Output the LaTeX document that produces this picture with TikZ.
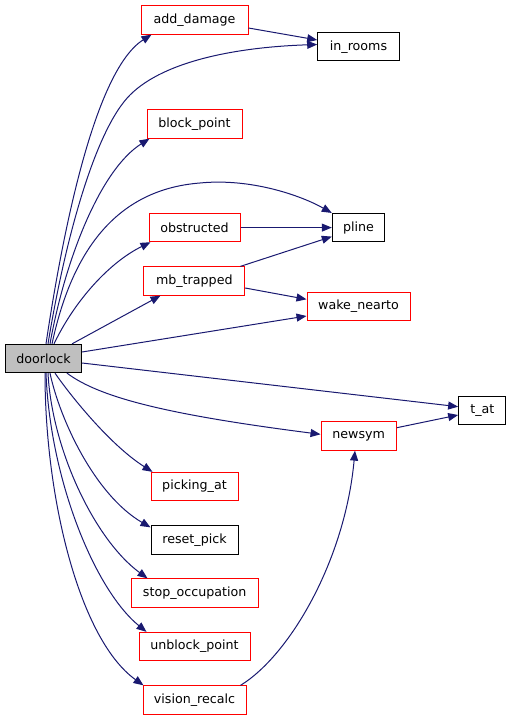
\documentclass[tikz,border=0pt]{standalone}
\usepackage{fontspec}
\setmainfont{DejaVu Sans}
\usetikzlibrary{arrows.meta,calc}
\definecolor{edgecol}{RGB}{25,25,112}
\definecolor{grayfill}{RGB}{191,191,191}
\begin{document}
\begin{tikzpicture}[x=0.75pt,y=-0.75pt,
  fn/.style={draw=red, line width=0.75pt, minimum height=21.2pt, inner sep=0pt,
             font=\fontsize{9.5}{11}\selectfont, fill=white},
  fb/.style={fn, draw=black},
  call/.style={draw=edgecol, line width=0.75pt, -{Triangle[length=7.5pt,width=6pt]}}]
\useasboundingbox (0,0) rectangle (512,720);

% nodes
\node[fb, fill=grayfill, minimum width=57pt] (doorlock) at (43.5,358.5) {doorlock};
\node[fn, minimum width=80.25pt] (add_damage) at (194.5,20) {add\_damage};
\node[fb, minimum width=61.2pt] (in_rooms) at (358.5,46.7) {in\_rooms};
\node[fn, minimum width=71.25pt] (block_point) at (194.5,124) {block\_point};
\node[fn, minimum width=68.25pt] (obstructed) at (194.5,227.6) {obstructed};
\node[fb, minimum width=39.3pt] (pline) at (358.5,227.6) {pline};
\node[fn, minimum width=75.5pt] (mb_trapped) at (194.3,281) {mb\_trapped};
\node[fn, minimum width=77.25pt] (wake_nearto) at (358.5,306.5) {wake\_nearto};
\node[fb, minimum width=35.5pt] (t_at) at (482.3,410.3) {t\_at};
\node[fn, minimum width=56.5pt] (newsym) at (358.7,436) {newsym};
\node[fn, minimum width=65.25pt] (picking_at) at (194.5,486.5) {picking\_at};
\node[fb, minimum width=65.25pt] (reset_pick) at (194.5,540) {reset\_pick};
\node[fn, minimum width=95.5pt] (stop_occupation) at (194.7,593) {stop\_occupation};
\node[fn, minimum width=83.25pt] (unblock_point) at (194.5,646.5) {unblock\_point};
\node[fn, minimum width=77.25pt] (vision_recalc) at (194.5,700) {vision\_recalc};

% edges from doorlock, upward
\draw[call] ($(doorlock.north)+(2.5,0)$) .. controls (60,250) and (92,72) .. ($(add_damage.south west)+(11,0)$);
\draw[call] ($(doorlock.north)+(4.5,0)$) .. controls (65,240) and (95,130) .. (130,95)
            .. controls (165,60) and (240,47) .. ($(in_rooms.west)+(0,-2.2)$);
\draw[call] ($(doorlock.north)+(6.5,0)$) .. controls (65,260) and (100,170) .. ($(block_point.south west)+(3,0)$);
\draw[call] ($(doorlock.north)+(8.5,0)$) .. controls (70,260) and (110,190) .. (200,183)
            .. controls (250,178) and (300,195) .. (pline.north west);
\draw[call] ($(doorlock.north)+(10.5,0)$) .. controls (75,300) and (110,262) .. ($(obstructed.south west)+(2,0)$);
\draw[call] ($(doorlock.north)+(28.5,0)$) -- ($(mb_trapped.south west)+(17,0)$);
\draw[call] ($(doorlock.east)+(0,-6.5)$) -- ($(wake_nearto.west)+(0,9.5)$);
\draw[call] ($(doorlock.east)+(0,4.5)$) -- ($(t_at.west)+(0,-3.6)$);

% edges from doorlock, downward
\draw[call] ($(doorlock.south)+(23.5,0)$) .. controls (100,398) and (170,415) .. ($(newsym.west)+(0,-1.7)$);
\draw[call] ($(doorlock.south)+(11.5,0)$) .. controls (70,395) and (110,445) .. ($(picking_at.north west)+(2,0)$);
\draw[call] ($(doorlock.south)+(6.5,0)$) .. controls (60,420) and (95,495) .. ($(reset_pick.north west)+(0,2)$);
\draw[call] ($(doorlock.south)+(4.5,0)$) .. controls (52,450) and (95,540) .. ($(stop_occupation.north west)+(17,0)$);
\draw[call] ($(doorlock.south)+(2.5,0)$) .. controls (50,480) and (95,590) .. ($(unblock_point.north west)+(8,0)$);
\draw[call] ($(doorlock.south)+(1.5,0)$) .. controls (45,500) and (80,640) .. ($(vision_recalc.north west)+(1,0)$);

% other edges
\draw[call] ($(add_damage.east)+(0,8)$) -- ($(in_rooms.west)+(0,-6.7)$);
\draw[call] (obstructed.east) -- (pline.west);
\draw[call] ($(mb_trapped.north east)+(-4.7,0)$) -- ($(pline.west)+(0,9)$);
\draw[call] ($(mb_trapped.east)+(0,7)$) -- ($(wake_nearto.west)+(0,-7.2)$);
\draw[call] ($(newsym.east)+(0,-8.3)$) -- ($(t_at.west)+(0,4.7)$);
\draw[call] ($(vision_recalc.north east)+(-6,0)$) .. controls (290,655) and (345,560) .. ($(newsym.south)+(-3.7,0)$);
\end{tikzpicture}
\end{document}
